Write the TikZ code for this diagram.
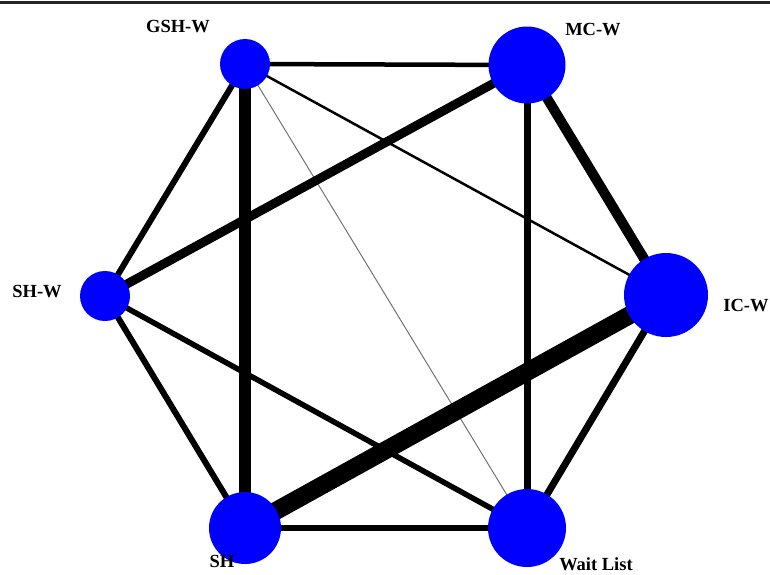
\documentclass[tikz,border=0pt]{standalone}
\usepackage{fontspec}
\setmainfont{Liberation Serif}
\usetikzlibrary{backgrounds}

\tikzset{
  trt/.style={circle,fill=blue,inner sep=0pt,minimum size=#1},
  lbl/.style={font=\fontsize{18.5}{22}\selectfont\bfseries,inner sep=1pt},
  arm/.style={draw=black,line width=#1},
}

\begin{document}
\begin{tikzpicture}[x=1pt,y=-1pt]
  \useasboundingbox (0,0) rectangle (770,574);
  % frame line at the top
  \draw[line width=2.5pt,black!85] (0,2.5) -- (770,2.5);
  % treatments (node size ~ sample size)
  \node[trt=50pt] (gsh) at (245,64) {};
  \node[trt=77pt] (mc)  at (527,65) {};
  \node[trt=50pt] (shw) at (105,296) {};
  \node[trt=84pt] (icw) at (666,295) {};
  \node[trt=72pt] (sh)  at (245,528) {};
  \node[trt=78pt] (wl)  at (527,528) {};
  % labels
  \node[lbl] (gshl) at (178,27)  {GSH-W};
  \node[lbl] (mcl)  at (593,30)  {MC-W};
  \node[lbl] (shwl) at (37,292)  {SH-W};
  \node[lbl] (icwl) at (746,306) {IC-W};
  \node[lbl] (shl)  at (222,561) {SH};
  \node[lbl] (wll)  at (596,564) {Wait List};
  % comparisons (width ~ number of trials)
  \begin{scope}[on background layer]
    \draw[arm=4.5pt] (gsh.center) -- (mc.center);
    \draw[arm=6pt]   (gsh.center) -- (shw.center);
    \draw[arm=12pt]  (gsh.center) -- (sh.center);
    \draw[arm=2.5pt] (gsh.center) -- (icw.center);
    \draw[line width=1pt,black!55] (gsh.center) -- (wl.center);
    \draw[arm=9pt]   (mc.center) -- (shw.center);
    \draw[arm=7pt]   (mc.center) -- (wl.center);
    \draw[arm=10pt]  (mc.center) -- (icw.center);
    \draw[arm=6pt]   (shw.center) -- (sh.center);
    \draw[arm=5.5pt] (shw.center) -- (wl.center);
    \draw[arm=18pt]  (icw.center) -- (sh.center);
    \draw[arm=7pt]   (icw.center) -- (wl.center);
    \draw[arm=5.5pt] (sh.center) -- (wl.center);
  \end{scope}
\end{tikzpicture}
\end{document}
